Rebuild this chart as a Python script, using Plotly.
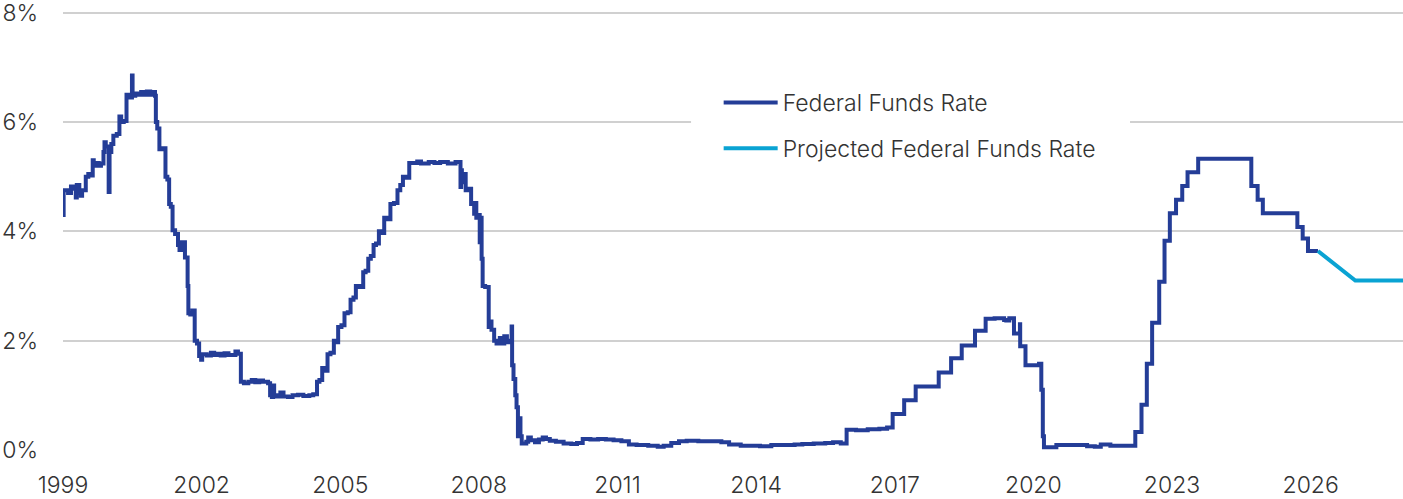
import plotly.graph_objects as go

# Effective federal funds rate, change points (step series, %)
ffr_dates = [
    "1999-01-01", "1999-01-06", "1999-02-10", "1999-03-05", "1999-03-25", "1999-04-12", "1999-04-20",
    "1999-05-10", "1999-05-22", "1999-06-01", "1999-06-30", "1999-07-20", "1999-08-10", "1999-08-24",
    "1999-09-01", "1999-09-20", "1999-10-10", "1999-10-28", "1999-11-17", "1999-11-25", "1999-12-05",
    "1999-12-28", "2000-01-04", "2000-01-18", "2000-02-03", "2000-03-01", "2000-03-22", "2000-04-05",
    "2000-04-25", "2000-05-17", "2000-06-10", "2000-06-29", "2000-07-04", "2000-07-25", "2000-08-20",
    "2000-09-10", "2000-10-01", "2000-10-25", "2000-11-20", "2000-12-10", "2000-12-28", "2001-01-04",
    "2001-01-15", "2001-02-01", "2001-02-20", "2001-03-21", "2001-04-05", "2001-04-19", "2001-05-02",
    "2001-05-16", "2001-06-05", "2001-06-28", "2001-07-10", "2001-07-25", "2001-08-22", "2001-09-12",
    "2001-09-18", "2001-10-03", "2001-10-20", "2001-11-07", "2001-11-25", "2001-12-12", "2001-12-28",
    "2002-01-05", "2002-02-10", "2002-03-15", "2002-04-10", "2002-05-01", "2002-06-01", "2002-07-01",
    "2002-08-01", "2002-09-01", "2002-09-25", "2002-10-15", "2002-11-07", "2002-12-01", "2003-01-05",
    "2003-02-01", "2003-03-01", "2003-04-01", "2003-05-01", "2003-06-10", "2003-06-26", "2003-07-10",
    "2003-07-20", "2003-07-28", "2003-08-20", "2003-09-15", "2003-10-10", "2003-11-15", "2003-12-20",
    "2004-02-01", "2004-03-15", "2004-05-01", "2004-06-01", "2004-07-01", "2004-07-20", "2004-08-11",
    "2004-08-25", "2004-09-22", "2004-10-15", "2004-11-11", "2004-11-28", "2004-12-15", "2005-01-10",
    "2005-02-03", "2005-03-01", "2005-03-23", "2005-04-15", "2005-05-04", "2005-06-01", "2005-07-01",
    "2005-07-20", "2005-08-10", "2005-08-30", "2005-09-21", "2005-10-10", "2005-11-02", "2005-11-25",
    "2005-12-14", "2006-01-05", "2006-02-01", "2006-03-01", "2006-03-29", "2006-04-20", "2006-05-11",
    "2006-06-01", "2006-06-30", "2006-09-01", "2006-10-01", "2006-12-01", "2007-01-15", "2007-03-01",
    "2007-05-01", "2007-07-01", "2007-08-09", "2007-08-14", "2007-08-20", "2007-09-01", "2007-09-19",
    "2007-10-10", "2007-11-01", "2007-11-25", "2007-12-01", "2007-12-12", "2007-12-28", "2008-01-08",
    "2008-01-12", "2008-01-23", "2008-01-31", "2008-02-20", "2008-03-19", "2008-03-28", "2008-04-10",
    "2008-05-01", "2008-05-20", "2008-06-15", "2008-07-01", "2008-07-20", "2008-08-10", "2008-09-01",
    "2008-09-16", "2008-09-20", "2008-10-01", "2008-10-15", "2008-10-25", "2008-11-05", "2008-11-18",
    "2008-11-25", "2008-12-05", "2009-01-10", "2009-01-25", "2009-02-15", "2009-03-20", "2009-04-20",
    "2009-05-20", "2009-06-15", "2009-07-15", "2009-09-01", "2009-11-01", "2010-01-01", "2010-02-15",
    "2010-04-01", "2010-06-01", "2010-08-01", "2010-10-01", "2010-12-01", "2011-02-01", "2011-04-01",
    "2011-06-01", "2011-09-01", "2011-11-15", "2012-01-01", "2012-03-01", "2012-05-01", "2012-07-01",
    "2012-10-01", "2013-01-01", "2013-04-01", "2013-06-01", "2013-09-01", "2013-12-01", "2014-02-01",
    "2014-05-01", "2014-09-01", "2014-11-01", "2015-01-01", "2015-04-01", "2015-07-01", "2015-09-01",
    "2015-11-01", "2015-12-17", "2016-03-01", "2016-06-01", "2016-09-01", "2016-11-01", "2016-12-15",
    "2017-03-16", "2017-06-15", "2017-12-14", "2018-03-22", "2018-06-14", "2018-09-27", "2018-12-20",
    "2019-03-01", "2019-05-15", "2019-06-01", "2019-06-25", "2019-08-01", "2019-09-17", "2019-09-19",
    "2019-10-31", "2020-01-15", "2020-02-15", "2020-03-04", "2020-03-16", "2020-03-25", "2020-05-01",
    "2020-07-01", "2020-10-01", "2021-01-01", "2021-03-01", "2021-05-01", "2021-06-17", "2021-09-01",
    "2022-03-17", "2022-05-05", "2022-06-16", "2022-07-28", "2022-09-22", "2022-11-03", "2022-12-15",
    "2023-02-02", "2023-03-23", "2023-05-04", "2023-07-27", "2024-09-19", "2024-11-08", "2024-12-19",
    "2025-09-18", "2025-10-30", "2025-12-11", "2026-02-28",
]
ffr_values = [
    4.30, 4.75, 4.70, 4.82, 4.78, 4.62, 4.85,
    4.70, 4.65, 4.75, 5.00, 5.05, 5.02, 5.30,
    5.20, 5.25, 5.20, 5.24, 5.45, 5.63, 5.55,
    4.72, 5.45, 5.60, 5.75, 5.78, 6.10, 6.00,
    6.02, 6.50, 6.45, 6.85, 6.48, 6.52, 6.50,
    6.55, 6.50, 6.56, 6.50, 6.55, 6.48, 6.00,
    5.88, 5.50, 5.52, 5.00, 4.95, 4.50, 4.45,
    4.02, 3.95, 3.75, 3.66, 3.80, 3.52, 3.00,
    2.50, 2.48, 2.55, 2.00, 1.95, 1.72, 1.65,
    1.75, 1.73, 1.78, 1.74, 1.76, 1.73, 1.77,
    1.74, 1.74, 1.80, 1.76, 1.25, 1.22, 1.25,
    1.28, 1.24, 1.27, 1.25, 1.22, 1.00, 0.97,
    1.18, 1.00, 0.98, 1.05, 0.98, 0.97, 1.00,
    1.01, 0.99, 1.00, 1.02, 1.25, 1.28, 1.50,
    1.45, 1.75, 1.78, 2.00, 1.97, 2.25, 2.28,
    2.50, 2.52, 2.75, 2.79, 3.00, 2.98, 3.25,
    3.28, 3.50, 3.55, 3.75, 3.78, 4.00, 3.97,
    4.25, 4.22, 4.50, 4.52, 4.75, 4.85, 5.00,
    4.98, 5.25, 5.28, 5.24, 5.27, 5.25, 5.27,
    5.24, 5.27, 4.81, 5.12, 4.90, 5.05, 4.75,
    4.78, 4.50, 4.32, 4.52, 4.25, 4.30, 3.80,
    4.25, 3.50, 3.00, 2.98, 2.25, 2.35, 2.20,
    2.00, 1.95, 2.05, 1.95, 2.08, 1.97, 2.00,
    2.26, 1.55, 1.30, 1.00, 0.78, 0.25, 0.58,
    0.25, 0.12, 0.15, 0.23, 0.18, 0.14, 0.19,
    0.23, 0.20, 0.17, 0.15, 0.12, 0.11, 0.13,
    0.20, 0.19, 0.20, 0.19, 0.18, 0.16, 0.10,
    0.09, 0.08, 0.06, 0.08, 0.13, 0.16, 0.17,
    0.16, 0.16, 0.14, 0.10, 0.08, 0.08, 0.07,
    0.09, 0.09, 0.10, 0.11, 0.12, 0.13, 0.14,
    0.12, 0.37, 0.36, 0.38, 0.39, 0.41, 0.66,
    0.91, 1.16, 1.42, 1.68, 1.91, 2.18, 2.40,
    2.41, 2.38, 2.37, 2.41, 2.13, 2.30, 1.90,
    1.55, 1.55, 1.58, 1.10, 0.25, 0.05, 0.05,
    0.09, 0.09, 0.09, 0.07, 0.06, 0.10, 0.08,
    0.33, 0.83, 1.58, 2.33, 3.08, 3.83, 4.33,
    4.58, 4.83, 5.08, 5.33, 4.83, 4.58, 4.33,
    4.08, 3.87, 3.64, 3.64,
]

# Projected path
proj_dates = ["2026-02-28", "2026-12-20", "2028-01-01"]
proj_values = [3.64, 3.10, 3.10]

y_ticks = [0, 2, 4, 6, 8]
y_tick_labels = ["0%", "2%", "4%", "6%", "8%"]

DARK = "#243d97"
LIGHT = "#0aa3d3"
TEXT = "#333333"
FONT = "Inter"
FS = 23

fig = go.Figure()
fig.add_trace(go.Scatter(
    x=ffr_dates, y=ffr_values, mode="lines", name="Federal Funds Rate",
    line=dict(color=DARK, width=4, shape="hv"), legendgroup="a",
))
fig.add_trace(go.Scatter(
    x=proj_dates, y=proj_values, mode="lines", name="Projected Federal Funds Rate",
    line=dict(color=LIGHT, width=4), legendgroup="b",
))

# white panel behind legend (covers gridline)
fig.add_shape(type="rect", xref="paper", yref="paper",
              x0=0.4687, x1=0.7963, y0=0.65, y1=0.83,
              fillcolor="white", line=dict(width=0), layer="above")

fig.update_layout(
    width=1403, height=499, autosize=False,
    margin=dict(l=63, r=0, t=8, b=49, autoexpand=False),
    paper_bgcolor="white", plot_bgcolor="white",
    font=dict(family=FONT, color=TEXT, size=FS, weight=300),
    showlegend=True,
    legend=dict(
        x=0.4893, xanchor="left", y=0.835, yanchor="top",
        bgcolor="rgba(0,0,0,0)", borderwidth=0,
        font=dict(family=FONT, size=FS, color=TEXT, weight=300),
        itemwidth=54, tracegroupgap=13,
    ),
    xaxis=dict(
        type="date", range=["1999-01-01", "2028-01-01"], automargin=False,
        tick0="1999-01-01", dtick="M36", tickformat="%Y",
        showgrid=False, zeroline=False, showline=False,
        ticks="", ticklabelstandoff=19, ticklabeloverflow="allow",
        tickfont=dict(family=FONT, size=FS, color=TEXT, weight=300),
    ),
    yaxis=dict(
        range=[0, 8.086], tickvals=y_ticks, ticktext=y_tick_labels, automargin=False,
        showgrid=True, gridcolor="#d0d0d0", gridwidth=1.5,
        zeroline=False, showline=False, ticks="", ticklabelstandoff=24,
        ticklabeloverflow="allow",
        tickfont=dict(family=FONT, size=FS, color=TEXT, weight=300),
    ),
)

fig.write_html("out.html", config={"displayModeBar": False},
               post_script="document.body.style.margin='0';")
